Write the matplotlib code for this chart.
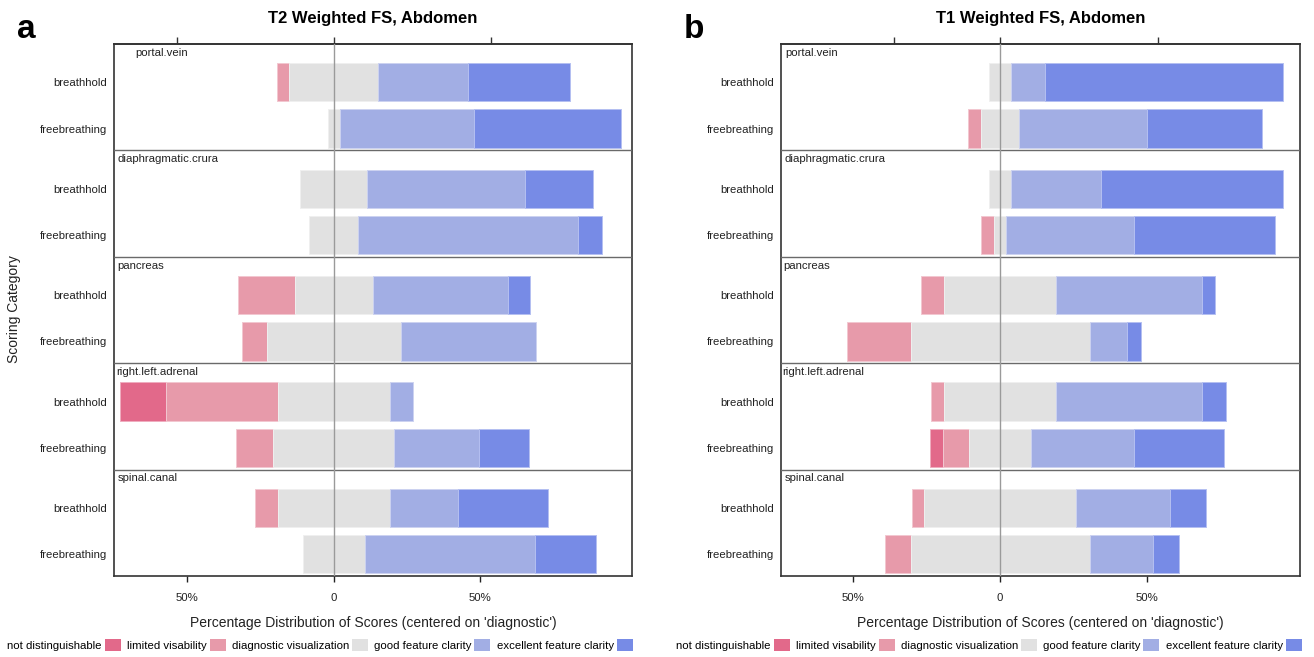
import numpy as np
import matplotlib.pyplot as plt
from matplotlib.patches import Patch
from matplotlib.colors import to_rgb

plt.rcParams['font.family'] = ['Liberation Sans', 'DejaVu Sans']

regions = ['portal.vein', 'diaphragmatic.crura', 'pancreas', 'right.left.adrenal', 'spinal.canal']
protocols = ['breathhold', 'freebreathing']
levels = ['not distinguishable', 'limited visability', 'diagnostic visualization',
          'good feature clarity', 'excellent feature clarity']
level_colors = ['#E2698A', '#E79AAA', '#E1E1E1', '#A2AEE4', '#778BE6']

# % of ratings per row, rows ordered region by region (breathhold, freebreathing)
t2_not_dist = [0, 0, 0, 0, 0, 0, 15.8, 0, 0, 0]
t2_limited = [4.2, 0, 0, 0, 19.4, 8.5, 38.2, 12.6, 7.8, 0]
t2_diagnostic = [30.3, 4.0, 23.0, 16.7, 26.8, 45.7, 38.4, 41.4, 38.4, 21.0]
t2_good = [30.7, 46.0, 53.8, 75.0, 46.0, 46.1, 7.8, 29.0, 23.1, 58.3]
t2_excellent = [35.0, 50.0, 23.2, 8.3, 7.8, 0, 0, 17.0, 30.9, 20.9]

t1_not_dist = [0, 0, 0, 0, 0, 0, 0, 4.6, 0, 0]
t1_limited = [0, 4.4, 0, 4.4, 8.0, 21.7, 4.3, 8.8, 4.3, 8.6]
t1_diagnostic = [7.6, 12.8, 7.6, 4.3, 38.2, 60.9, 38.2, 21.2, 51.6, 60.9]
t1_good = [11.4, 43.5, 30.6, 43.5, 49.8, 12.7, 49.8, 35.0, 31.9, 21.6]
t1_excellent = [81.0, 39.3, 61.8, 47.8, 4.3, 4.7, 8.0, 30.6, 12.4, 8.9]

W, H = 1314, 657
fig = plt.figure(figsize=(W / 100, H / 100), dpi=100)

row_offsets = [0.36, 0.795]
bar_h = 0.36


def lighter(c, f=0.45):
    r, g, b = to_rgb(c)
    return (r + (1 - r) * f, g + (1 - g) * f, b + (1 - b) * f)


def likert_panel(left_px, width_px, xlim, series, title, letter, top_ticks, strip_dx):
    ax = fig.add_axes([left_px / W, 1 - 576 / H, width_px / W, 532 / H])
    data = np.array(series).T  # rows x levels
    centers = []
    for i, row in enumerate(data):
        y = i // 2 + row_offsets[i % 2]
        centers.append(y)
        start = -(row[0] + row[1] + row[2] / 2)
        for val, col in zip(row, level_colors):
            if val > 0:
                ax.barh(y, val, left=start, height=bar_h, color=col,
                        edgecolor=lighter(col), linewidth=0.7, zorder=2)
            start += val

    for g in range(1, len(regions)):
        ax.axhline(g, color='#6a6a6a', lw=1.0, zorder=3)
    ax.axvline(0, color='#9a9a9a', lw=1.0, zorder=4)

    for g, name in enumerate(regions):
        ax.text(xlim[0] + strip_dx[g], g + 0.035, name, ha='left', va='top',
                fontsize=8.2, color='#222222', zorder=5)

    ax.set_xlim(*xlim)
    ax.set_ylim(len(regions), 0)
    ax.set_yticks(centers, protocols * len(regions))
    ax.tick_params(axis='y', length=0, pad=5, labelsize=8.2, colors='#222222')
    ax.set_xticks([-50, 0, 50], ['50%', '0', '50%'])
    ax.tick_params(axis='x', length=4.5, width=1.0, pad=8, labelsize=8.2,
                   colors='#222222')
    for s in ax.spines.values():
        s.set_color('#333333')
        s.set_linewidth(1.2)

    sec = ax.secondary_xaxis('top')
    sec.set_xticks(top_ticks)
    sec.tick_params(length=5, width=1.0, labeltop=False, colors='#333333')
    sec.spines['top'].set_color('#333333')
    sec.spines['top'].set_linewidth(1.2)

    cx = (left_px + width_px / 2) / W
    fig.text(cx, 1 - 19 / H, title, ha='center', va='center',
             fontsize=12, fontweight='bold')
    fig.text(cx, 1 - 623 / H, "Percentage Distribution of Scores (centered on 'diagnostic')",
             ha='center', va='center', fontsize=10, color='#222222')
    fig.text((left_px - 97) / W, 1 - 30 / H, letter, ha='left', va='center',
             fontsize=24, fontweight='bold')
    return ax


likert_panel(114, 518, (-75.1, 101.9),
             [t2_not_dist, t2_limited, t2_diagnostic, t2_good, t2_excellent],
             'T2 Weighted FS, Abdomen', 'a', [-53.5, 0, 53.8],
             [7.4, 1.2, 1.1, 0.6, 1.4])
likert_panel(781, 519, (-74.6, 102.1),
             [t1_not_dist, t1_limited, t1_diagnostic, t1_good, t1_excellent],
             'T1 Weighted FS, Abdomen', 'b', [-36.2, 0, 53.7],
             [1.6, 1.2, 0.8, 0.4, 1.3])

fig.text(14 / W, 1 - 309 / H, 'Scoring Category', rotation=90,
         ha='center', va='center', fontsize=10, color='#222222')

handles = [Patch(facecolor=c, edgecolor='none') for c in level_colors]
for cx in (320, 989):
    fig.legend(handles, levels, loc='center', bbox_to_anchor=(cx / W, 1 - 645 / H),
               ncol=5, frameon=False, markerfirst=False, fontsize=8.2,
               handlelength=1.4, handleheight=1.2, handletextpad=0.25,
               columnspacing=0.55, borderpad=0)

fig.savefig('out.png', dpi=100)
